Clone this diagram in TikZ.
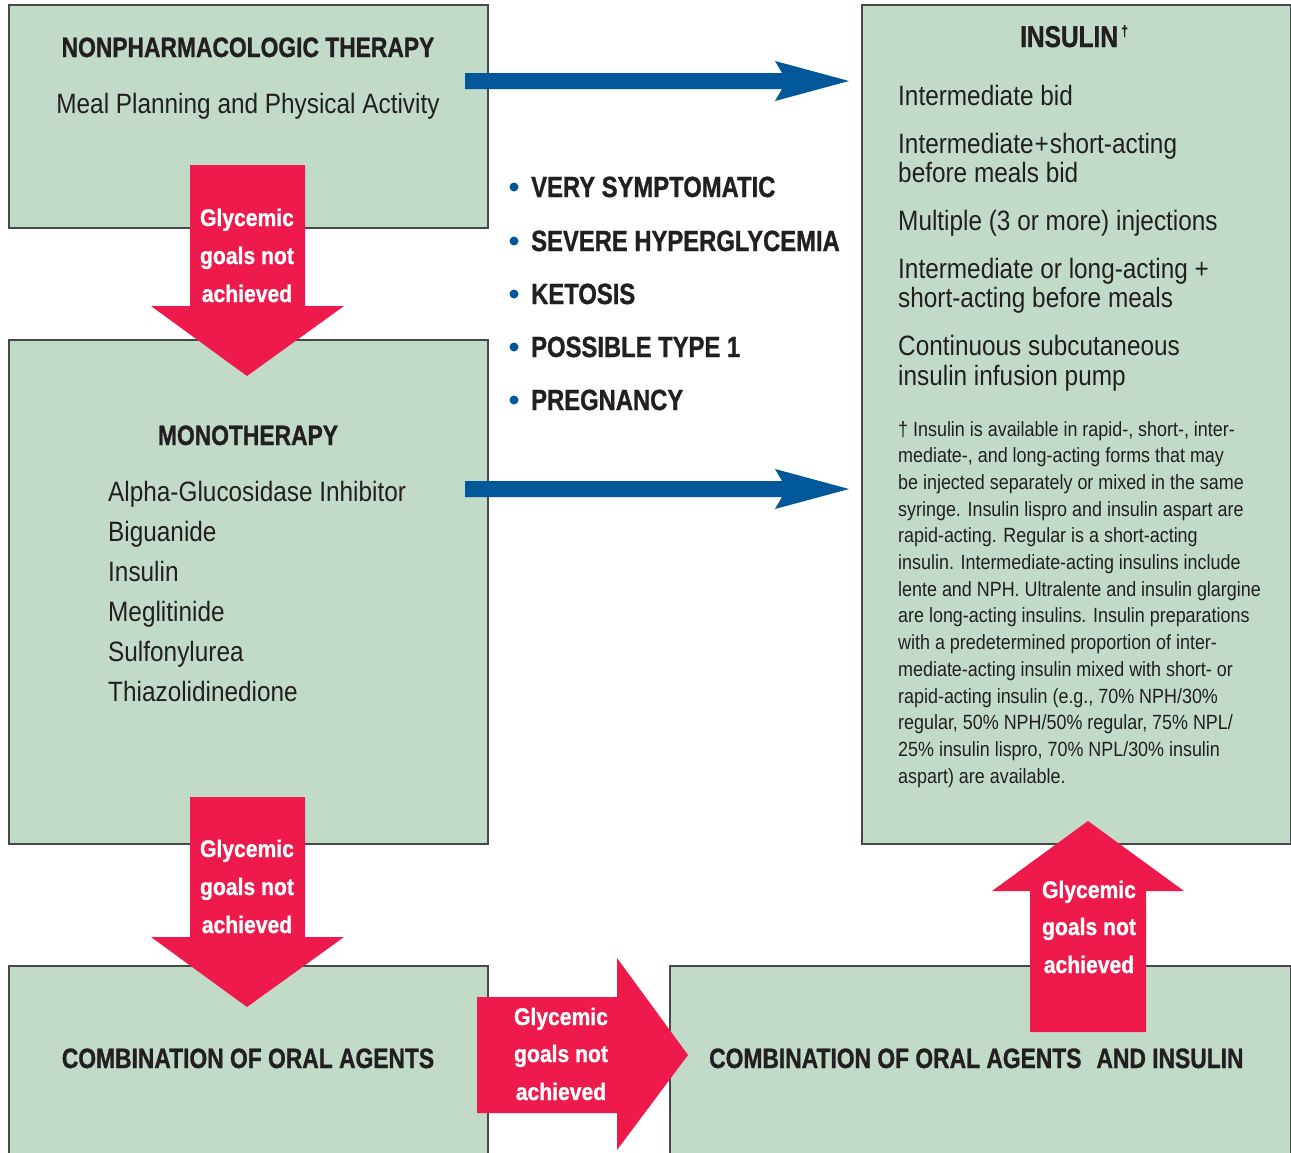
\documentclass[tikz,border=0pt]{standalone}
\usepackage{fontspec}
\newfontfamily\rfont{Liberation Sans}[FakeStretch=0.87]
\newfontfamily\bfont{Liberation Sans}[FakeStretch=0.815, FakeBold=1]
\newfontfamily\gfont{Liberation Sans}[FakeStretch=0.88, FakeBold=1]
\definecolor{boxgreen}{RGB}{194,219,201}
\definecolor{boxline}{RGB}{72,72,72}
\definecolor{ink}{RGB}{35,31,32}
\definecolor{goalred}{RGB}{237,26,75}
\definecolor{flowblue}{RGB}{0,87,154}
\tikzset{
  box/.style={draw=boxline, line width=1.6pt, fill=boxgreen, inner sep=0pt, anchor=north west},
  reg/.style={font=\rfont\fontsize{28}{34}\selectfont, text=ink, inner sep=0pt},
  hd/.style={font=\bfont\bfseries\fontsize{28}{34}\selectfont, text=ink, inner sep=0pt},
  bul/.style={font=\bfont\bfseries\fontsize{29.2}{36}\selectfont, text=ink, inner sep=0pt, anchor=base west},
  note/.style={font=\rfont\fontsize{20.6}{26.7}\selectfont, text=ink, inner sep=0pt, anchor=base west},
  goal/.style={font=\gfont\bfseries\fontsize{24}{30}\selectfont, text=white, inner sep=0pt, anchor=base},
  dot/.style={circle, fill=flowblue, minimum size=9pt, inner sep=0pt},
  redarrow/.style={fill=goalred},
  bluearrow/.style={fill=flowblue}
}
\begin{document}
\begin{tikzpicture}[x=1pt,y=-1pt]
\useasboundingbox (0,0) rectangle (1291,1152);

% boxes
\node[box, minimum width=479pt, minimum height=223pt] (b1) at (8,4) {};
\node[box, minimum width=479pt, minimum height=504pt] (b2) at (8,339) {};
\node[box, minimum width=479pt, minimum height=200pt] (b3) at (8,965) {};
\node[box, minimum width=429pt, minimum height=839pt] (b4) at (861,4) {};
\node[box, minimum width=621pt, minimum height=200pt] (b5) at (669,965) {};

% blue arrows
\fill[bluearrow] (465,73) -- (782,73) -- (775,61) -- (849,81) -- (775,101) -- (782,89) -- (465,89) -- cycle;
\fill[bluearrow] (465,481) -- (782,481) -- (775,469) -- (849,489) -- (775,509) -- (782,497) -- (465,497) -- cycle;

% red arrows
\fill[redarrow] (190,165) -- (305,165) -- (305,306) -- (344,306) -- (247,376) -- (151,306) -- (190,306) -- cycle;
\fill[redarrow] (190,797) -- (305,797) -- (305,937) -- (344,937) -- (247,1007) -- (151,937) -- (190,937) -- cycle;
\fill[redarrow] (477,997) -- (617,997) -- (617,958) -- (688,1055) -- (617,1150) -- (617,1113) -- (477,1113) -- cycle;
\fill[redarrow] (1030,1032) -- (1030,891) -- (992,891) -- (1088,821) -- (1184,891) -- (1146,891) -- (1146,1032) -- cycle;

% box 1
\node[hd, anchor=base] (h1) at (248,57) {NONPHARMACOLOGIC THERAPY};
\node[reg, anchor=base] (m1) at (248,113) {Meal Planning and Physical Activity};

% box 2
\node[hd, anchor=base] (h2) at (248,445) {MONOTHERAPY};
\node[reg, anchor=base west] (l1) at (108,501) {Alpha-Glucosidase Inhibitor};
\node[reg, anchor=base west] (l2) at (108,541) {Biguanide};
\node[reg, anchor=base west] (l3) at (108,581) {Insulin};
\node[reg, anchor=base west] (l4) at (108,621) {Meglitinide};
\node[reg, anchor=base west] (l5) at (108,661) {Sulfonylurea};
\node[reg, anchor=base west] (l6) at (108,701) {Thiazolidinedione};

% box 3
\node[hd, anchor=base] (h3) at (248,1068) {COMBINATION OF ORAL AGENTS};

% box 5
\node[hd, anchor=base west] (h5) at (709,1068) {COMBINATION OF ORAL AGENTS\hspace{15pt}AND INSULIN};

% bullets
\node[dot] (d1) at (514,187) {};
\node[dot] (d2) at (514,241) {};
\node[dot] (d3) at (514,294) {};
\node[dot] (d4) at (514,347) {};
\node[dot] (d5) at (514,400) {};
\node[bul] (u1) at (531,197) {VERY SYMPTOMATIC};
\node[bul] (u2) at (531,251) {SEVERE HYPERGLYCEMIA};
\node[bul] (u3) at (531,304) {KETOSIS};
\node[bul] (u4) at (531,357) {POSSIBLE TYPE 1};
\node[bul] (u5) at (531,410) {PREGNANCY};

% box 4
\node[hd, font=\bfont\bfseries\fontsize{30}{36}\selectfont, anchor=base west] (h4) at (1020,47) {INSULIN};
\node[hd, font=\bfont\bfseries\fontsize{15}{15}\selectfont, anchor=base west] (dag) at (1121,36) {†};
\node[reg, anchor=base west] (i1) at (898,105) {Intermediate bid};
\node[reg, anchor=base west] (i2) at (898,153) {Intermediate\kern1pt+\kern1pt short-acting};
\node[reg, anchor=base west] (i2b) at (898,182) {before meals bid};
\node[reg, anchor=base west] (i3) at (898,230) {Multiple (3 or more) injections};
\node[reg, anchor=base west] (i4) at (898,278) {Intermediate or long-acting +};
\node[reg, anchor=base west] (i4b) at (898,307) {short-acting before meals};
\node[reg, anchor=base west] (i5) at (898,355) {Continuous subcutaneous};
\node[reg, anchor=base west] (i5b) at (898,385) {insulin infusion pump};

\node[note] (n1) at (898,436.0) {† Insulin is available in rapid-, short-, inter-};
\node[note] (n2) at (898,462.7) {mediate-, and long-acting forms that may};
\node[note] (n3) at (898,489.4) {be injected separately or mixed in the same};
\node[note] (n4) at (898,516.1) {syringe. Insulin lispro and insulin aspart are};
\node[note] (n5) at (898,542.8) {rapid-acting. Regular is a short-acting};
\node[note] (n6) at (898,569.5) {insulin. Intermediate-acting insulins include};
\node[note] (n7) at (898,596.2) {lente and NPH. Ultralente and insulin glargine};
\node[note] (n8) at (898,622.9) {are long-acting insulins. Insulin preparations};
\node[note] (n9) at (898,649.6) {with a predetermined proportion of inter-};
\node[note] (n10) at (898,676.3) {mediate-acting insulin mixed with short- or};
\node[note] (n11) at (898,703.0) {rapid-acting insulin (e.g., 70\% NPH/30\%};
\node[note] (n12) at (898,729.7) {regular, 50\% NPH/50\% regular, 75\% NPL/};
\node[note] (n13) at (898,756.4) {25\% insulin lispro, 70\% NPL/30\% insulin};
\node[note] (n14) at (898,783.1) {aspart) are available.};

% arrow labels
\node[goal] (g1a) at (247,226) {Glycemic};
\node[goal] (g1b) at (247,264) {goals not};
\node[goal] (g1c) at (247,302) {achieved};
\node[goal] (g2a) at (247,857) {Glycemic};
\node[goal] (g2b) at (247,895) {goals not};
\node[goal] (g2c) at (247,933) {achieved};
\node[goal] (g3a) at (561,1025) {Glycemic};
\node[goal] (g3b) at (561,1062) {goals not};
\node[goal] (g3c) at (561,1100) {achieved};
\node[goal] (g4a) at (1089,898) {Glycemic};
\node[goal] (g4b) at (1089,935) {goals not};
\node[goal] (g4c) at (1089,973) {achieved};
\end{tikzpicture}
\end{document}
